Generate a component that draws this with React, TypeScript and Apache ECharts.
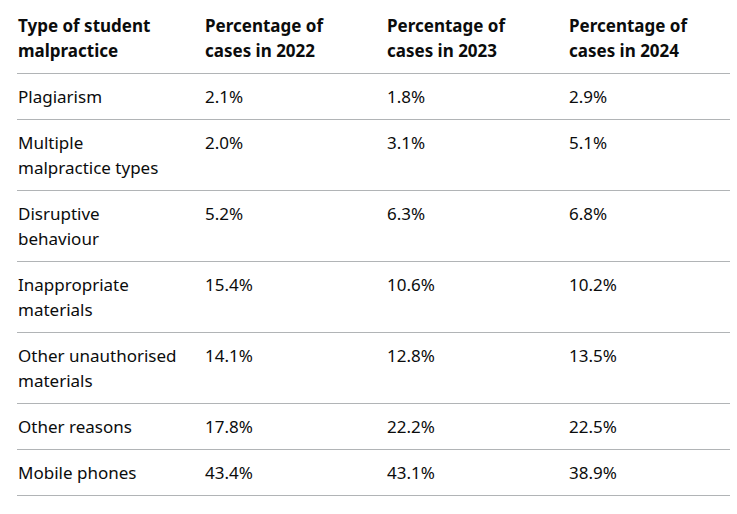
import React, { useEffect, useRef } from "react";
import * as echarts from "echarts";

const headers = ["Type of student\nmalpractice", "Percentage of\ncases in 2022", "Percentage of\ncases in 2023", "Percentage of\ncases in 2024"];
const categories = [
  "Plagiarism",
  "Multiple\nmalpractice types",
  "Disruptive\nbehaviour",
  "Inappropriate\nmaterials",
  "Other unauthorised\nmaterials",
  "Other reasons",
  "Mobile phones",
];
const values2022 = [2.1, 2.0, 5.2, 15.4, 14.1, 17.8, 43.4];
const values2023 = [1.8, 3.1, 6.3, 10.6, 12.8, 22.2, 43.1];
const values2024 = [2.9, 5.1, 6.8, 10.2, 13.5, 22.5, 38.9];

const FONT = "'Noto Sans', sans-serif";
const TEXT = "#0b0c0c";
const BORDER = "#b1b4b6";
const COL_X = [18, 205, 387, 569];
const LEFT = 17;
const RIGHT = 730;
const LINE_H = 25;
const FIRST_OFF = 24;
const TEXT_SHIFT = -1;
const BASE_H = 46;

export default function App() {
  const ref = useRef<HTMLDivElement>(null);
  useEffect(() => {
    if (!ref.current) return;
    const chart = echarts.init(ref.current, undefined, { renderer: "svg" });
    const elements: any[] = [];
    const addRow = (cells: string[], top: number, bold: boolean) => {
      const n = Math.max(...cells.map((c) => c.split("\n").length));
      cells.forEach((c, ci) => {
        c.split("\n").forEach((ln, li) => {
          elements.push({
            type: "text",
            x: COL_X[ci],
            y: top + FIRST_OFF + TEXT_SHIFT + li * LINE_H,
            style: {
              text: ln,
              fill: TEXT,
              fontWeight: bold ? "bold" : "normal",
              fontSize: 17,
              fontFamily: FONT,
              textAlign: "left",
              textVerticalAlign: "middle",
            },
          });
        });
      });
      const bottom = top + BASE_H + (n - 1) * LINE_H;
      elements.push({
        type: "line",
        shape: { x1: LEFT, y1: bottom + 0.5, x2: RIGHT, y2: bottom + 0.5 },
        style: { stroke: BORDER, lineWidth: 1 },
      });
      return bottom + 1;
    };
    let y = addRow(headers, 2, true);
    categories.forEach((cat, i) => {
      y = addRow(
        [cat, `${values2022[i].toFixed(1)}%`, `${values2023[i].toFixed(1)}%`, `${values2024[i].toFixed(1)}%`],
        y - 1,
        false
      );
    });
    chart.setOption({ animation: false, graphic: { elements } });
    return () => chart.dispose();
  }, []);
  return (
    <div
      ref={ref}
      style={{ position: "fixed", left: 0, top: 0, width: 737, height: 514, background: "#ffffff" }}
    />
  );
}
